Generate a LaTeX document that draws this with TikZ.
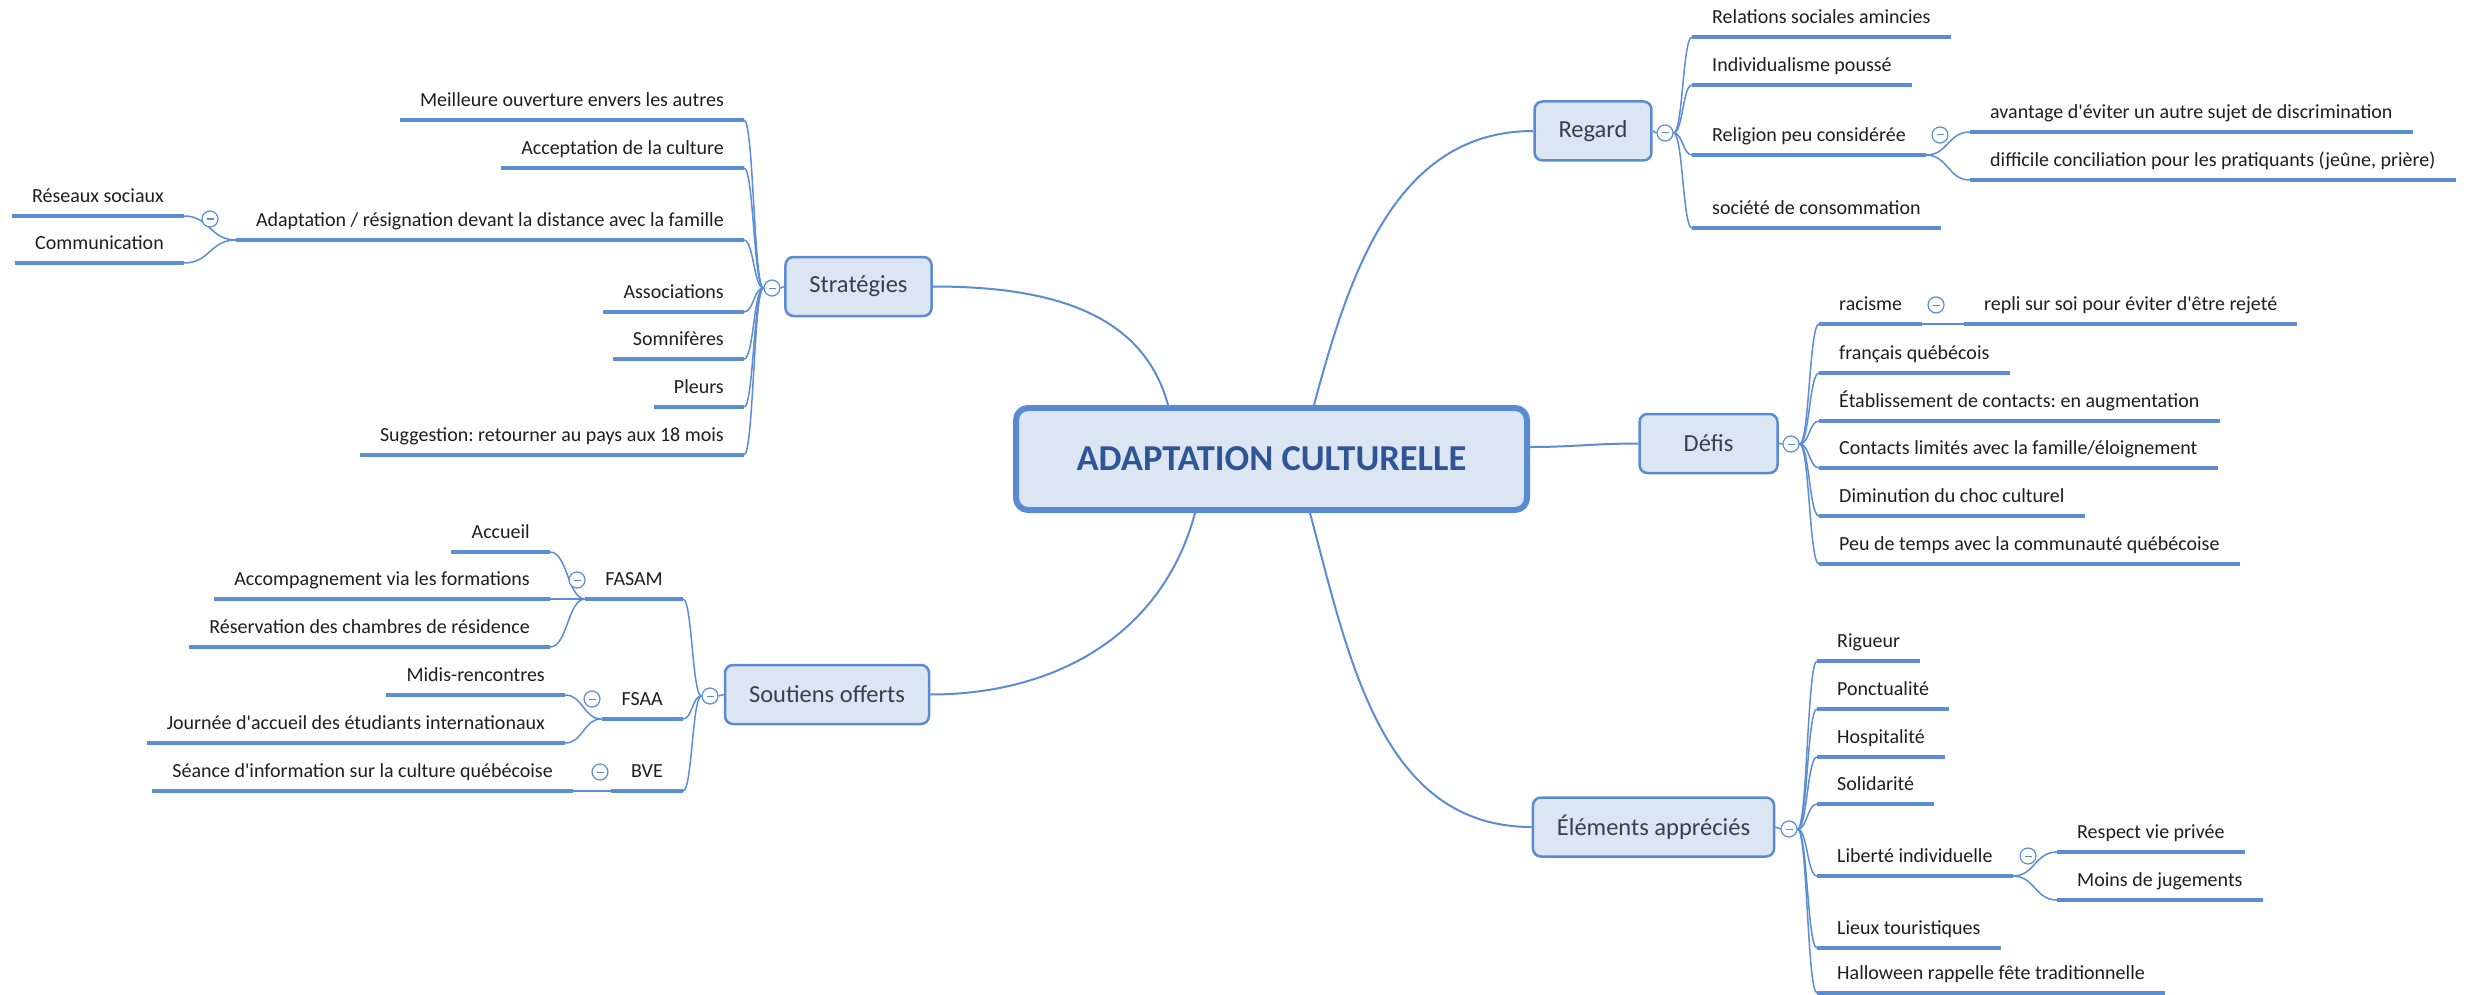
\documentclass[tikz,border=0pt]{standalone}
\usepackage{fontspec}
\setmainfont{Carlito}
\frenchspacing
\usetikzlibrary{calc,backgrounds}
\definecolor{linec}{HTML}{5B8DD6}
\definecolor{boxfill}{HTML}{DCE6F2}
\definecolor{boxline}{HTML}{5A8BD2}
\definecolor{titlec}{HTML}{2F5597}
\definecolor{topicc}{HTML}{353F4F}
\definecolor{leafc}{HTML}{1E1E1E}
\newcommand\ap{\textquotesingle}
\tikzset{
  central/.style={draw=boxline, line width=6pt, fill=boxfill, rounded corners=12pt,
    minimum width=511pt, minimum height=102pt, text=titlec,
    font=\fontsize{36.5}{40}\selectfont\bfseries},
  topic/.style={draw=boxline, line width=2.5pt, fill=boxfill, rounded corners=8pt,
    minimum height=59pt, inner xsep=24pt, text=topicc, font=\fontsize{24.5}{28}\selectfont},
  leaf/.style={text=leafc, font=\fontsize{20}{24}\selectfont, inner xsep=20pt,
    inner ysep=8pt, text height=14pt, text depth=5pt},
  uline/.style={linec, line width=4pt},
  mlink/.style={linec, line width=2pt},
  link/.style={linec, line width=1.5pt,
    to path={.. controls ($(\tikztostart)!.5!(\tikztotarget|-\tikztostart)$)
      and ($(\tikztotarget)!.5!(\tikztostart|-\tikztotarget)$) .. (\tikztotarget)}},
  toggle/.style={circle, draw=linec, line width=1.2pt, fill=white, minimum size=16pt,
    inner sep=0pt, path picture={\draw[linec, line width=1pt]
      ([xshift=-3.5pt]path picture bounding box.center) -- ([xshift=3.5pt]path picture bounding box.center);}}
}
\begin{document}
\begin{tikzpicture}[x=1pt, y=-1pt, line join=round]
\useasboundingbox (0,0) rectangle (2470,995);
% centre and main topics
\node[central] (c) at (1271.5,459) {ADAPTATION CULTURELLE};
\node[topic] (regard) at (1593,131) {Regard};
\node[topic, minimum width=138pt] (defis) at (1708.5,443.5) {Défis};
\node[topic] (elem) at (1653.5,827) {Éléments appréciés};
\node[topic] (strat) at (858.5,286.5) {Stratégies};
\node[topic] (sout) at (827,694.5) {Soutiens offerts};
% collapse markers
\foreach \n/\x/\y in {tRegard/1665/133, tDefis/1791/444, tElem/1789/829, tStrat/772/288,
    tSout/710/696, tRelig/1940/135, tRacis/1936/305, tLibert/2028/856, tAdapt/210/219,
    tFasam/577/580, tFsaa/592/699, tBve/600/772}
  \node[toggle] (\n) at (\x,\y) {};
% right side leaves
\foreach \n/\y/\txt in {rg1/37/{Relations sociales amincies}, rg2/85/{Individualisme poussé},
    rg3/155/{Religion peu considérée}, rg4/228/{société de consommation}}
  \node[leaf, anchor=south west] (\n) at (1692,\y) {\txt};
\foreach \n/\y/\txt in {rg31/132/{avantage d\ap éviter un autre sujet de discrimination},
    rg32/180/{difficile conciliation pour les pratiquants (jeûne, prière)}}
  \node[leaf, anchor=south west] (\n) at (1970,\y) {\txt};
\foreach \n/\y/\txt in {df1/324/{racisme}, df2/373/{français québécois},
    df3/421/{Établissement de contacts: en augmentation},
    df4/468/{Contacts limités avec la famille/éloignement},
    df5/516/{Diminution du choc culturel}, df6/564/{Peu de temps avec la communauté québécoise}}
  \node[leaf, anchor=south west] (\n) at (1819,\y) {\txt};
\node[leaf, anchor=south west] (df11) at (1964,324) {repli sur soi pour éviter d\ap être rejeté};
\foreach \n/\y/\txt in {el1/661/{Rigueur}, el2/709/{Ponctualité}, el3/757/{Hospitalité},
    el4/804/{Solidarité}, el5/876/{Liberté individuelle}, el6/948/{Lieux touristiques},
    el7/993/{Halloween rappelle fête traditionnelle}}
  \node[leaf, anchor=south west] (\n) at (1817,\y) {\txt};
\foreach \n/\y/\txt in {el51/852/{Respect vie privée}, el52/900/{Moins de jugements}}
  \node[leaf, anchor=south west] (\n) at (2057,\y) {\txt};
% left side leaves
\foreach \n/\y/\txt in {st1/120/{Meilleure ouverture envers les autres},
    st2/168/{Acceptation de la culture},
    st3/240/{Adaptation / résignation devant la distance avec la famille},
    st4/312/{Associations}, st5/359/{Somnifères}, st6/407/{Pleurs},
    st7/455/{Suggestion: retourner au pays aux 18 mois}}
  \node[leaf, anchor=south east] (\n) at (744,\y) {\txt};
\foreach \n/\y/\txt in {st31/216/{Réseaux sociaux}, st32/263/{Communication}}
  \node[leaf, anchor=south east] (\n) at (184,\y) {\txt};
\foreach \n/\y/\txt in {so1/599/{FASAM}, so2/719/{FSAA}, so3/791/{BVE}}
  \node[leaf, anchor=south east] (\n) at (683,\y) {\txt};
\foreach \n/\y/\txt in {so11/552/{Accueil}, so12/599/{Accompagnement via les formations},
    so13/647/{Réservation des chambres de résidence}}
  \node[leaf, anchor=south east] (\n) at (550,\y) {\txt};
\foreach \n/\y/\txt in {so21/695/{Midis-rencontres}, so22/743/{Journée d\ap accueil des étudiants internationaux}}
  \node[leaf, anchor=south east] (\n) at (565,\y) {\txt};
\node[leaf, anchor=south east] (so31) at (573,791) {Séance d\ap information sur la culture québécoise};
% underlines
\foreach \n in {rg1,rg2,rg3,rg4,rg31,rg32,df1,df2,df3,df4,df5,df6,df11,el1,el2,el3,el4,el5,el6,el7,
    el51,el52,st1,st2,st3,st4,st5,st6,st7,st31,st32,so1,so2,so3,so11,so12,so13,so21,so22,so31}
  \draw[uline] (\n.south west) -- (\n.south east);
\begin{scope}[on background layer]
% from the centre
\draw[mlink] ([xshift=42.5pt]c.north) to[out=75,in=180] (regard.west);
\draw[mlink] ([yshift=12pt]c.east) to[out=0,in=180] (defis.west);
\draw[mlink] ([xshift=38.5pt]c.south) to[out=-75,in=180] (elem.west);
\draw[mlink] ([xshift=-103.5pt]c.north) to[out=105,in=0] (strat.east);
\draw[mlink] ([xshift=-76.5pt]c.south) to[out=-105,in=0] (sout.east);
% fans
\draw[link] (regard.east) -- (tRegard.west);
\draw[link] (defis.east) -- (tDefis.west);
\draw[link] (elem.east) -- (tElem.west);
\draw[link] (strat.west) -- (tStrat.east);
\draw[link] (sout.west) -- (tSout.east);
\foreach \n in {rg1,rg2,rg3,rg4} \draw[link] (tRegard.east) to (\n.south west);
\foreach \n in {df1,df2,df3,df4,df5,df6} \draw[link] (tDefis.east) to (\n.south west);
\foreach \n in {el1,el2,el3,el4,el5,el6,el7} \draw[link] (tElem.east) to (\n.south west);
\foreach \n in {st1,st2,st3,st4,st5,st6,st7} \draw[link] (tStrat.west) to (\n.south east);
\foreach \n in {so1,so2,so3} \draw[link] (tSout.west) to (\n.south east);
\foreach \n in {rg31,rg32} \draw[link] (rg3.south east) to (\n.south west);
\draw[link] (df1.south east) -- (df11.south west);
\foreach \n in {el51,el52} \draw[link] (el5.south east) to (\n.south west);
\foreach \n in {st31,st32} \draw[link] (st3.south west) to (\n.south east);
\foreach \n in {so11,so12,so13} \draw[link] (so1.south west) to (\n.south east);
\foreach \n in {so21,so22} \draw[link] (so2.south west) to (\n.south east);
\draw[link] (so3.south west) -- (so31.south east);
\end{scope}
\end{tikzpicture}
\end{document}
